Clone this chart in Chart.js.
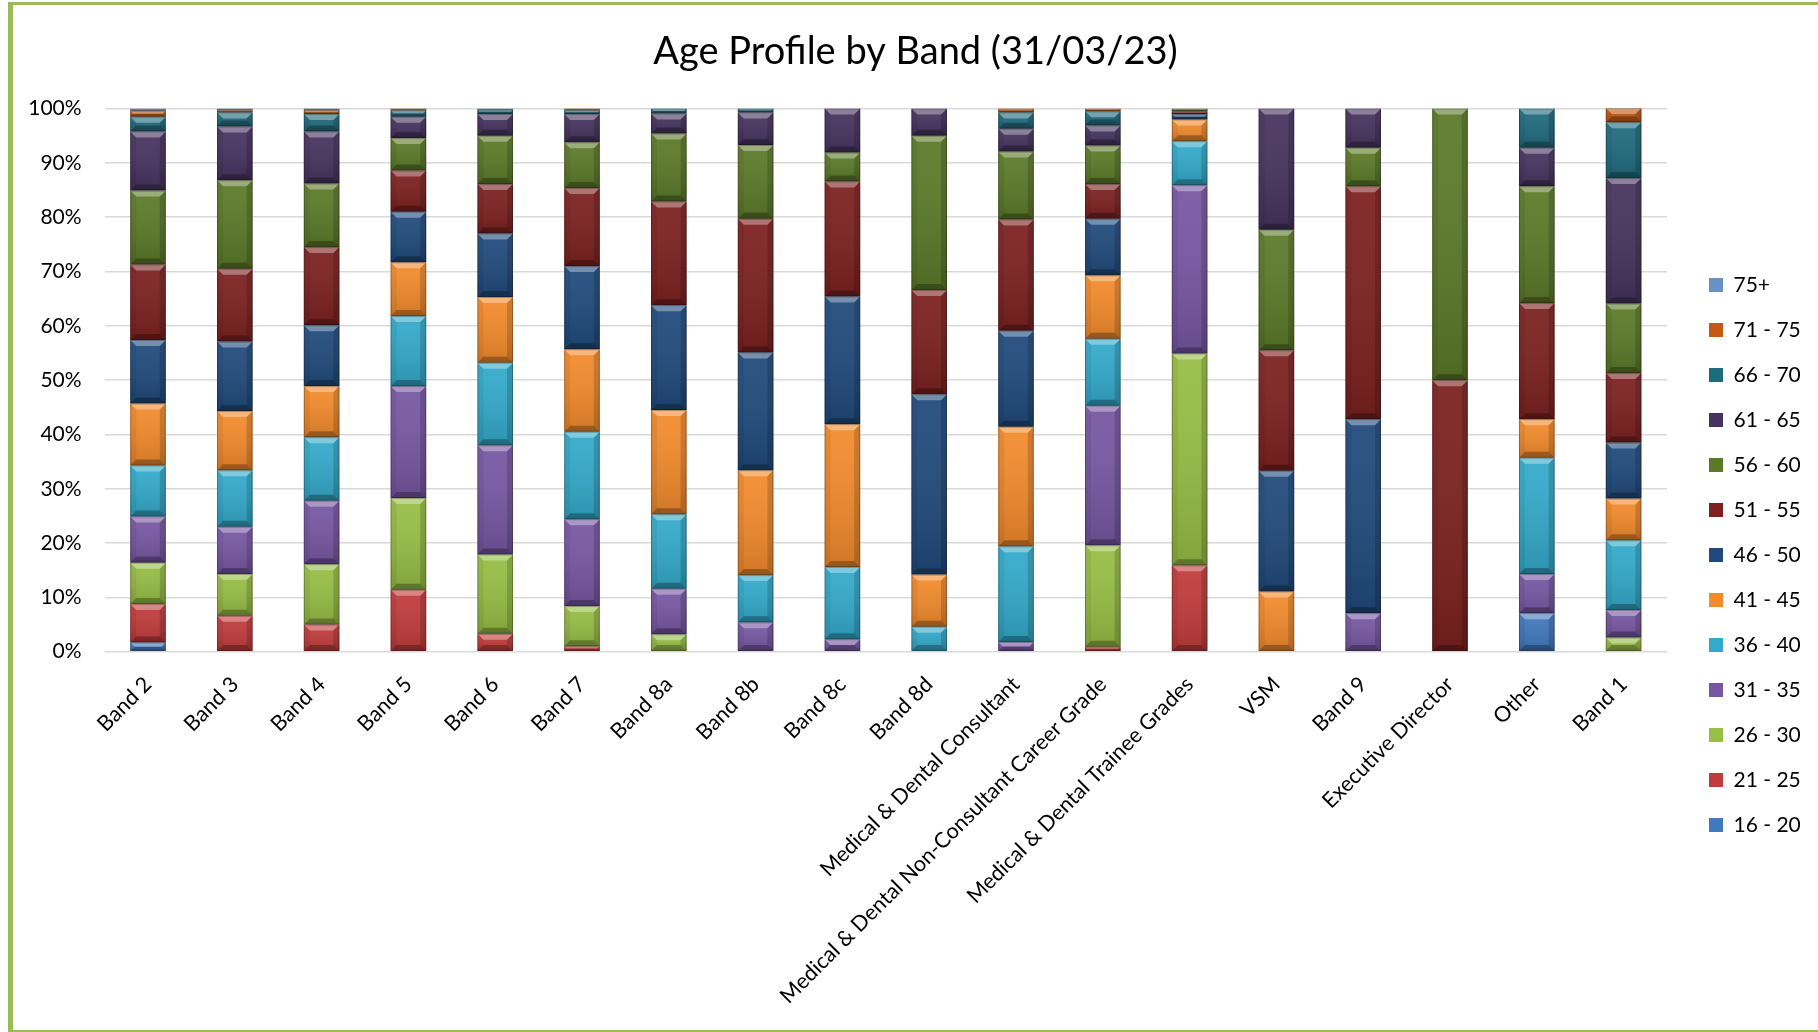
<!DOCTYPE html>
<html>
<head>
<meta charset="utf-8">
<title>Age Profile by Band</title>
<script src="https://cdn.jsdelivr.net/npm/chart.js@4.4.0/dist/chart.umd.min.js"></script>
<style>
  html, body { margin: 0; padding: 0; background: #fff; overflow: hidden; width: 1818px; height: 1032px; }
  .edge { position: absolute; background: #9bbb59; }
  #edgeTop { left: 8px; top: 2px; width: 1810px; height: 3px; }
  #edgeLeft { left: 8px; top: 2px; width: 5px; height: 1030px; }
  #edgeBottom { left: 8px; top: 1030px; width: 1810px; height: 2px; }
  #ageChart { position: absolute; left: 13px; top: 5px; display: block; }
</style>
</head>
<body>
<div class="edge" id="edgeTop"></div>
<div class="edge" id="edgeLeft"></div>
<div class="edge" id="edgeBottom"></div>
<canvas id="ageChart" width="1805" height="1025"></canvas>
<script>
// ============================================================
// Age profile by band (31/03/23) — 100% stacked columns
// ============================================================
const CATEGORIES = [
  'Band 2', 'Band 3', 'Band 4', 'Band 5', 'Band 6', 'Band 7', 'Band 8a', 'Band 8b', 'Band 8c', 'Band 8d',
  'Medical & Dental Consultant', 'Medical & Dental Non-Consultant Career Grade', 'Medical & Dental Trainee Grades',
  'VSM', 'Band 9', 'Executive Director', 'Other', 'Band 1',
];

const AGE_BANDS = ['16 - 20', '21 - 25', '26 - 30', '31 - 35', '36 - 40', '41 - 45', '46 - 50',
  '51 - 55', '56 - 60', '61 - 65', '66 - 70', '71 - 75', '75+'];

const BAND_COLORS = ['#4178be', '#c23b3b', '#97be45', '#7757a3', '#33aacb', '#f38b2c', '#204a7c',
  '#7c2120', '#5b7a28', '#46335f', '#1f6b7e', '#c45a12', '#6892c6'];

// % of staff in each age band, one value per category above
const AGE_16_20 = [1.7, 0, 0, 0, 0, 0, 0, 0, 0, 0, 0, 0, 0, 0, 0, 0, 7.1, 0];
const AGE_21_25 = [7.1, 6.6, 5.0, 11.4, 3.3, 1.0, 0, 0, 0, 0, 0, 0.9, 15.9, 0, 0, 0, 0, 0];
const AGE_26_30 = [7.6, 7.7, 11.1, 16.9, 14.6, 7.4, 3.2, 0, 0, 0, 0, 18.7, 39.0, 0, 0, 0, 0, 2.6];
const AGE_31_35 = [8.5, 8.7, 11.7, 20.6, 20.1, 16.0, 8.4, 5.4, 2.3, 0, 1.8, 25.7, 31.0, 0, 7.1, 0, 7.2, 5.1];
const AGE_36_40 = [9.4, 10.4, 11.7, 12.9, 15.2, 16.1, 13.7, 8.7, 13.3, 4.6, 17.6, 12.3, 8.1, 0, 0, 0, 21.4, 12.8];
const AGE_41_45 = [11.4, 10.9, 9.4, 9.9, 12.1, 15.2, 19.2, 19.3, 26.3, 9.6, 22.0, 11.7, 4.0, 11.1, 0, 0, 7.1, 7.7];
const AGE_46_50 = [11.7, 12.8, 11.2, 9.3, 11.7, 15.3, 19.3, 21.7, 23.5, 33.2, 17.7, 10.4, 1.0, 22.2, 35.7, 0, 0, 10.3];
const AGE_51_55 = [13.9, 13.4, 14.4, 7.6, 9.1, 14.4, 19.1, 24.6, 21.2, 19.2, 20.5, 6.4, 0.5, 22.2, 42.9, 50, 21.4, 12.8];
const AGE_56_60 = [13.6, 16.3, 11.7, 6.0, 8.9, 8.4, 12.5, 13.6, 5.3, 28.4, 12.5, 7.1, 0.5, 22.2, 7.1, 50, 21.5, 12.8];
const AGE_61_65 = [10.9, 9.9, 9.6, 3.9, 4.0, 5.2, 3.7, 6.0, 8.1, 5.0, 4.2, 3.7, 0, 22.3, 7.2, 0, 7.1, 23.1];
const AGE_66_70 = [2.7, 2.6, 3.2, 1.2, 0.8, 0.7, 0.9, 0.7, 0, 0, 3.0, 2.6, 0, 0, 0, 0, 7.2, 10.3];
const AGE_71_75 = [1.1, 0.4, 0.7, 0.3, 0, 0.3, 0, 0, 0, 0, 0.7, 0.5, 0, 0, 0, 0, 0, 2.6];
const AGE_75_UP = [0.4, 0.3, 0.3, 0, 0.2, 0, 0, 0, 0, 0, 0, 0, 0, 0, 0, 0, 0, 0];

const SERIES = [AGE_16_20, AGE_21_25, AGE_26_30, AGE_31_35, AGE_36_40, AGE_41_45, AGE_46_50,
  AGE_51_55, AGE_56_60, AGE_61_65, AGE_66_70, AGE_71_75, AGE_75_UP];

const Y_TICKS = [0, 10, 20, 30, 40, 50, 60, 70, 80, 90, 100];

const FONT = "Lato, 'Noto Sans', sans-serif";
Chart.defaults.font.family = FONT;
Chart.defaults.color = '#000';

// legend geometry (canvas px)
const LEGEND_W = 151;
const LEGEND_BOX_X = 1696;
const LEGEND_FIRST_Y = 280;

function poly(ctx, pts, fill) {
  ctx.beginPath();
  ctx.moveTo(pts[0][0], pts[0][1]);
  for (let i = 1; i < pts.length; i++) ctx.lineTo(pts[i][0], pts[i][1]);
  ctx.closePath();
  ctx.fillStyle = fill;
  ctx.fill();
}

// Excel-style bevel on every stacked segment
const bevelPlugin = {
  id: 'bevel',
  afterDatasetsDraw(chart) {
    const ctx = chart.ctx;
    chart.data.datasets.forEach((ds, di) => {
      const meta = chart.getDatasetMeta(di);
      if (meta.hidden) return;
      meta.data.forEach(bar => {
        const { x, y, base, width } = bar.getProps(['x', 'y', 'base', 'width'], true);
        const l = x - width / 2, r = x + width / 2;
        const top = Math.min(y, base), bot = Math.max(y, base);
        const h = bot - top;
        if (h < 0.5) return;
        const b = Math.min(6, h / 2, width / 2);
        ctx.save();
        const g = ctx.createLinearGradient(0, top, 0, bot);
        g.addColorStop(0, 'rgba(255,255,255,0.06)');
        g.addColorStop(1, 'rgba(0,0,0,0.14)');
        ctx.fillStyle = g;
        ctx.fillRect(l, top, width, h);
        poly(ctx, [[l, top], [r, top], [r - b, top + b], [l + b, top + b]], 'rgba(255,255,255,0.34)');
        poly(ctx, [[l, bot], [r, bot], [r - b, bot - b], [l + b, bot - b]], 'rgba(0,0,0,0.28)');
        poly(ctx, [[l, top], [l + b, top + b], [l + b, bot - b], [l, bot]], 'rgba(0,0,0,0.06)');
        poly(ctx, [[r, top], [r - b, top + b], [r - b, bot - b], [r, bot]], 'rgba(0,0,0,0.16)');
        ctx.strokeStyle = 'rgba(0,0,0,0.25)';
        ctx.lineWidth = 1;
        ctx.strokeRect(l + 0.5, top + 0.5, width - 1, h - 1);
        ctx.restore();
      });
    });
  },
};

// pin the legend where the original sits
const legendPlacePlugin = {
  id: 'legendPlace',
  beforeLayout(chart) {
    const lg = chart.legend;
    if (lg && !lg.__pinned) {
      const fit = lg.fit;
      lg.fit = function () { fit.call(this); this.width = LEGEND_W; };
      lg.__pinned = true;
    }
  },
  afterLayout(chart) {
    const lg = chart.legend;
    if (!lg) return;
    const pad = lg.options.labels.padding;
    const fs = lg.options.labels.font.size;
    lg.left = LEGEND_BOX_X - pad;
    lg.right = lg.left + lg.width;
    lg.top = LEGEND_FIRST_Y - pad - fs / 2;
    lg.bottom = lg.top + lg.height;
  },
};

const datasets = AGE_BANDS.map((label, i) => ({
  label,
  data: SERIES[i],
  backgroundColor: BAND_COLORS[i],
  borderWidth: 0,
  barPercentage: 0.41,
  categoryPercentage: 1.0,
}));

new Chart(document.getElementById('ageChart').getContext('2d'), {
  type: 'bar',
  data: { labels: CATEGORIES, datasets },
  plugins: [bevelPlugin, legendPlacePlugin],
  options: {
    responsive: false,
    animation: false,
    layout: { padding: 0 },
    plugins: {
      title: {
        display: true,
        text: 'Age Profile by Band (31/03/23)',
        color: '#000',
        font: { size: 38, weight: 'normal', family: FONT },
        padding: { top: 24, bottom: 34 },
      },
      legend: {
        position: 'right',
        align: 'start',
        reverse: true,
        labels: { boxWidth: 14, boxHeight: 14, padding: 24, color: '#000', font: { size: 21, family: FONT } },
      },
      tooltip: { enabled: false },
    },
    scales: {
      x: {
        stacked: true,
        grid: { display: false, drawTicks: false },
        border: { display: false },
        ticks: {
          autoSkip: false, maxRotation: 45, minRotation: 45, padding: 20,
          color: '#000', font: { size: 21.5, family: FONT },
        },
        afterFit: s => { s.height = 378.3; },
      },
      y: {
        stacked: true,
        min: 0,
        max: 100,
        afterBuildTicks: s => { s.ticks = Y_TICKS.map(v => ({ value: v })); },
        grid: { color: '#d9d9d9', lineWidth: 1.6, drawTicks: false },
        border: { display: false },
        ticks: {
          padding: 23, color: '#000', font: { size: 21, family: FONT },
          callback: v => v + '%',
        },
        afterFit: s => { s.width = 91.6; },
      },
    },
  },
});
</script>
</body>
</html>
